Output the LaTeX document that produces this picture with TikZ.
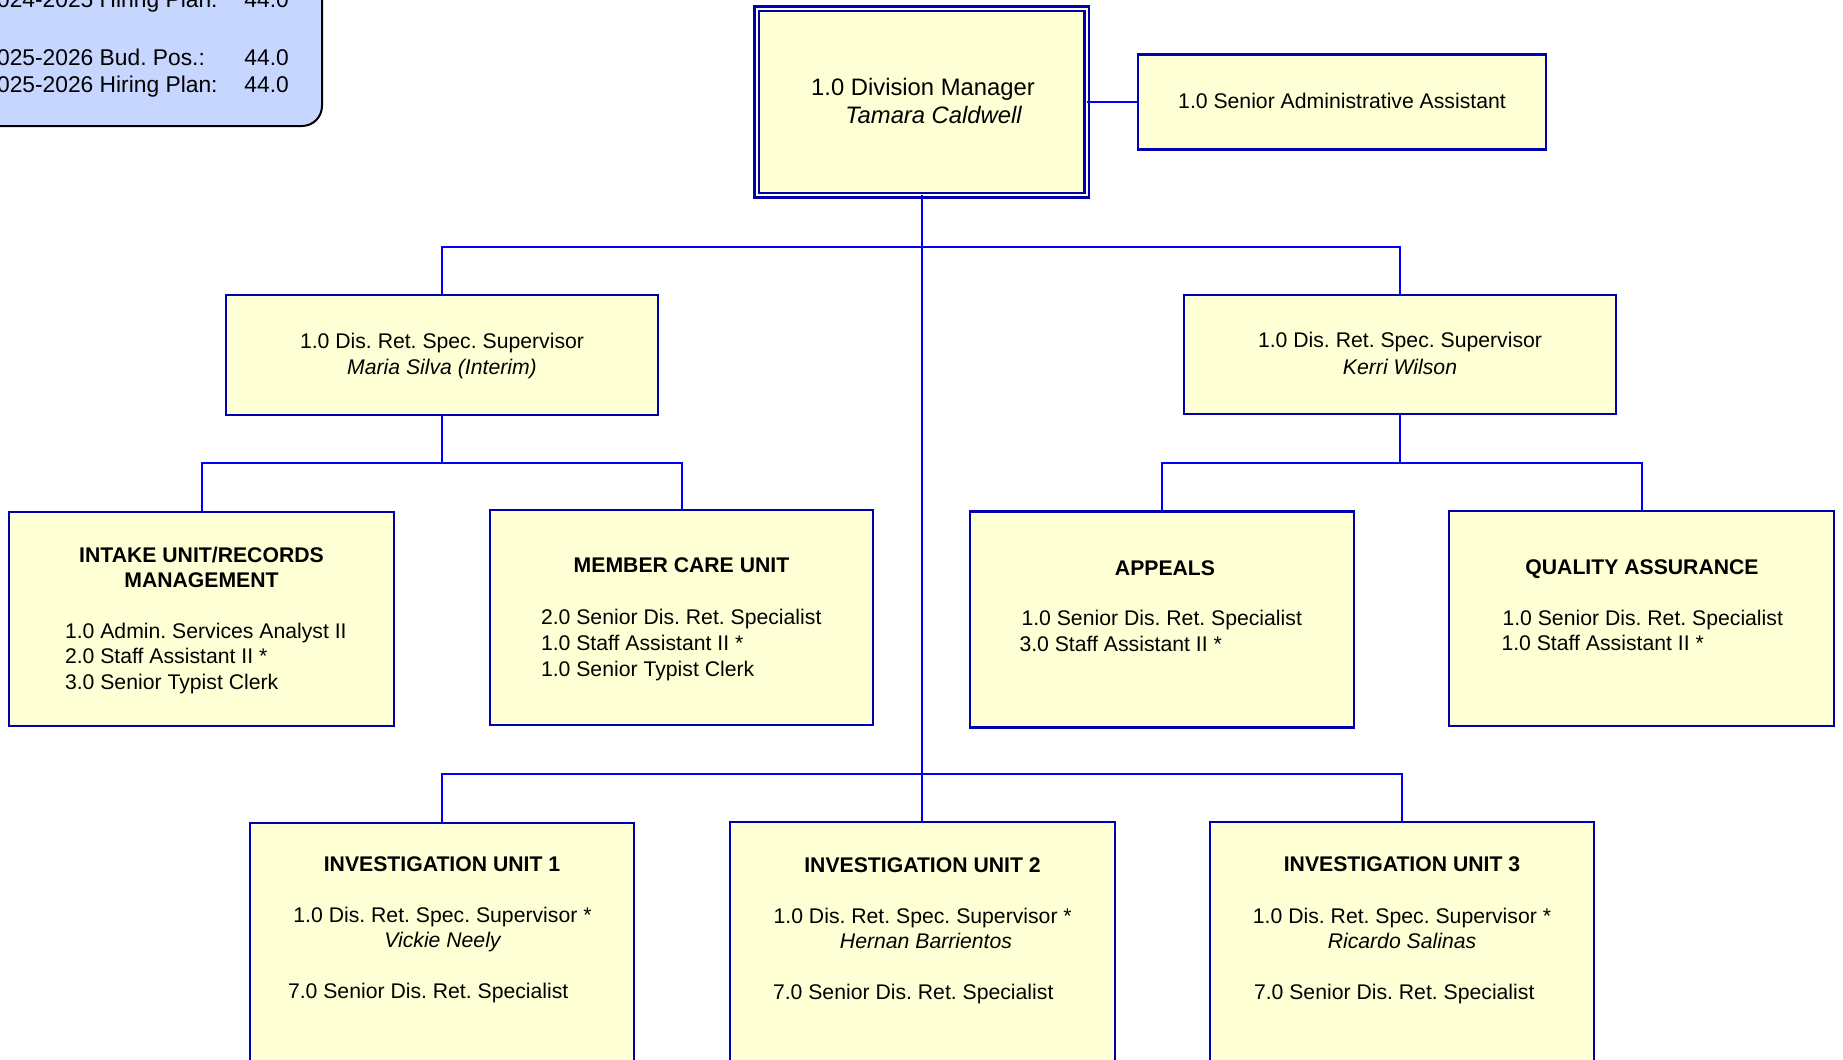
\documentclass[tikz,border=0pt]{standalone}
\usepackage{fontspec}
\setmainfont{Liberation Sans}
\frenchspacing
\definecolor{boxfill}{RGB}{255,255,214}
\definecolor{boxline}{RGB}{0,0,176}
\definecolor{linkblue}{RGB}{0,0,255}
\definecolor{legendfill}{RGB}{198,214,255}
\begin{document}
\begin{tikzpicture}[x=0.5pt,y=-0.5pt,
  boxsize/.style 2 args={minimum width=#1*0.5pt, minimum height=#2*0.5pt},
  unit/.style={draw=boxline, fill=boxfill, line width=1.25pt, inner sep=0pt, outer sep=0pt},
  headbox/.style={unit, double=boxfill, double distance=1pt},
  legend/.style={draw=black, fill=legendfill, line width=1pt, rounded corners=10pt, inner sep=0pt, outer sep=0pt},
  link/.style={draw=linkblue, line width=1pt},
  txt/.style={anchor=base, inner sep=0pt, outer sep=0pt, font=\fontsize{10.6}{12.75}\selectfont},
  ltxt/.style={txt, anchor=base west},
  ttl/.style={txt, font=\fontsize{10.6}{12.75}\selectfont\bfseries},
  nm/.style={txt, font=\fontsize{10.6}{12.75}\selectfont\itshape},
  legtxt/.style={anchor=base west, inner sep=0pt, font=\fontsize{11.4}{13.5}\selectfont}]
\useasboundingbox (0,0) rectangle (1843,1060);
\clip (0,0) rectangle (1843,1060);

% position summary in the upper left corner
\node[legend, anchor=south east, boxsize={420}{220}] (legend) at (322,126) {};
\node[legtxt] (lg1a) at (-16,7) {2024-2025 Hiring Plan:};
\node[legtxt] (lg1b) at (244,7) {44.0};
\node[legtxt] (lg2a) at (-16,65) {2025-2026 Bud. Pos.:};
\node[legtxt] (lg2b) at (244,65) {44.0};
\node[legtxt] (lg3a) at (-16,92) {2025-2026 Hiring Plan:};
\node[legtxt] (lg3b) at (244,92) {44.0};

% boxes
\node[headbox, boxsize={330}{186.5}] (dm) at (921.5,101.75) {};
\node[unit, boxsize={408}{95}] (adm) at (1342,101.75) {};
\node[unit, boxsize={432}{120}] (sup1) at (442,355) {};
\node[unit, boxsize={432}{119}] (sup2) at (1400,354.5) {};
\node[unit, boxsize={385}{214}] (im) at (201.5,619) {};
\node[unit, boxsize={383}{215}] (mc) at (681.5,617.5) {};
\node[unit, boxsize={384}{216}] (ap) at (1162,619.5) {};
\node[unit, boxsize={385}{215}] (qa) at (1641.5,618.5) {};
\node[unit, boxsize={384}{280}, anchor=north] (iu1) at (442,823) {};
\node[unit, boxsize={385}{280}, anchor=north] (iu2) at (922.5,822) {};
\node[unit, boxsize={384}{280}, anchor=north] (iu3) at (1402,822) {};

% reporting lines
\coordinate (jtop) at (921.5,247);
\coordinate (jbot) at (921.5,773.5);
\coordinate (jleft) at (442,462.5);
\coordinate (jright) at (1400,463);
\draw[link] (dm) -- (adm);
\draw[link] (dm.south) -- (jbot);
\draw[link] (sup1.north) |- (jtop) -| (sup2.north);
\draw[link] (sup1.south) -- (jleft);
\draw[link] (im.north) |- (jleft) -| (mc.north);
\draw[link] (sup2.south) -- (jright);
\draw[link] (ap.north) |- (jright) -| (qa.north);
\draw[link] (iu1.north) |- (jbot) -| (iu3.north);
\draw[link] (jbot) -- (jbot |- iu2.north);

% division manager
\node[txt, font=\fontsize{11.9}{14}\selectfont] (dm1) at (923,95) {1.0 Division Manager};
\node[nm, font=\fontsize{11.9}{14}\selectfont\itshape] (dm2) at (933.5,123) {Tamara Caldwell};
\node[txt] (adm1) at (1342,108.5) {1.0 Senior Administrative Assistant};

% supervisors
\node[txt] (s11) at (442,348) {1.0 Dis. Ret. Spec. Supervisor};
\node[nm] (s12) at (442,374.5) {Maria Silva (Interim)};
\node[txt] (s21) at (1400,347.5) {1.0 Dis. Ret. Spec. Supervisor};
\node[nm] (s22) at (1400,374) {Kerri Wilson};

% intake unit / records management
\node[ttl] (im0) at (201.5,562) {INTAKE UNIT/RECORDS};
\node[ttl] (im0b) at (201.5,587.5) {MANAGEMENT};
\node[ltxt] (im1) at (65,638) {1.0 Admin. Services Analyst II};
\node[ltxt] (im2) at (65,663.5) {2.0 Staff Assistant II *};
\node[ltxt] (im3) at (65,689) {3.0 Senior Typist Clerk};

% member care unit
\node[ttl] (mc0) at (681.5,572.5) {MEMBER CARE UNIT};
\node[ltxt] (mc1) at (541,624.5) {2.0 Senior Dis. Ret. Specialist};
\node[ltxt] (mc2) at (541,650.5) {1.0 Staff Assistant II *};
\node[ltxt] (mc3) at (541,676.5) {1.0 Senior Typist Clerk};

% appeals
\node[ttl] (ap0) at (1165,575.5) {APPEALS};
\node[ltxt] (ap1) at (1021.5,625.5) {1.0 Senior Dis. Ret. Specialist};
\node[ltxt] (ap2) at (1019.5,651.5) {3.0 Staff Assistant II *};

% quality assurance
\node[ttl] (qa0) at (1642,574) {QUALITY ASSURANCE};
\node[ltxt] (qa1) at (1502.5,625) {1.0 Senior Dis. Ret. Specialist};
\node[ltxt] (qa2) at (1501.5,650) {1.0 Staff Assistant II *};

% investigation units
\node[ttl] (iu10) at (442,871) {INVESTIGATION UNIT 1};
\node[txt] (iu11) at (442.5,922) {1.0 Dis. Ret. Spec. Supervisor *};
\node[nm] (iu12) at (442.5,947) {Vickie Neely};
\node[ltxt] (iu13) at (288,998) {7.0 Senior Dis. Ret. Specialist};

\node[ttl] (iu20) at (922.5,872) {INVESTIGATION UNIT 2};
\node[txt] (iu21) at (922.7,923) {1.0 Dis. Ret. Spec. Supervisor *};
\node[nm] (iu22) at (926,948) {Hernan Barrientos};
\node[ltxt] (iu23) at (773,999) {7.0 Senior Dis. Ret. Specialist};

\node[ttl] (iu30) at (1402,871.5) {INVESTIGATION UNIT 3};
\node[txt] (iu31) at (1402,923) {1.0 Dis. Ret. Spec. Supervisor *};
\node[nm] (iu32) at (1402,948) {Ricardo Salinas};
\node[ltxt] (iu33) at (1254,999) {7.0 Senior Dis. Ret. Specialist};
\end{tikzpicture}
\end{document}
